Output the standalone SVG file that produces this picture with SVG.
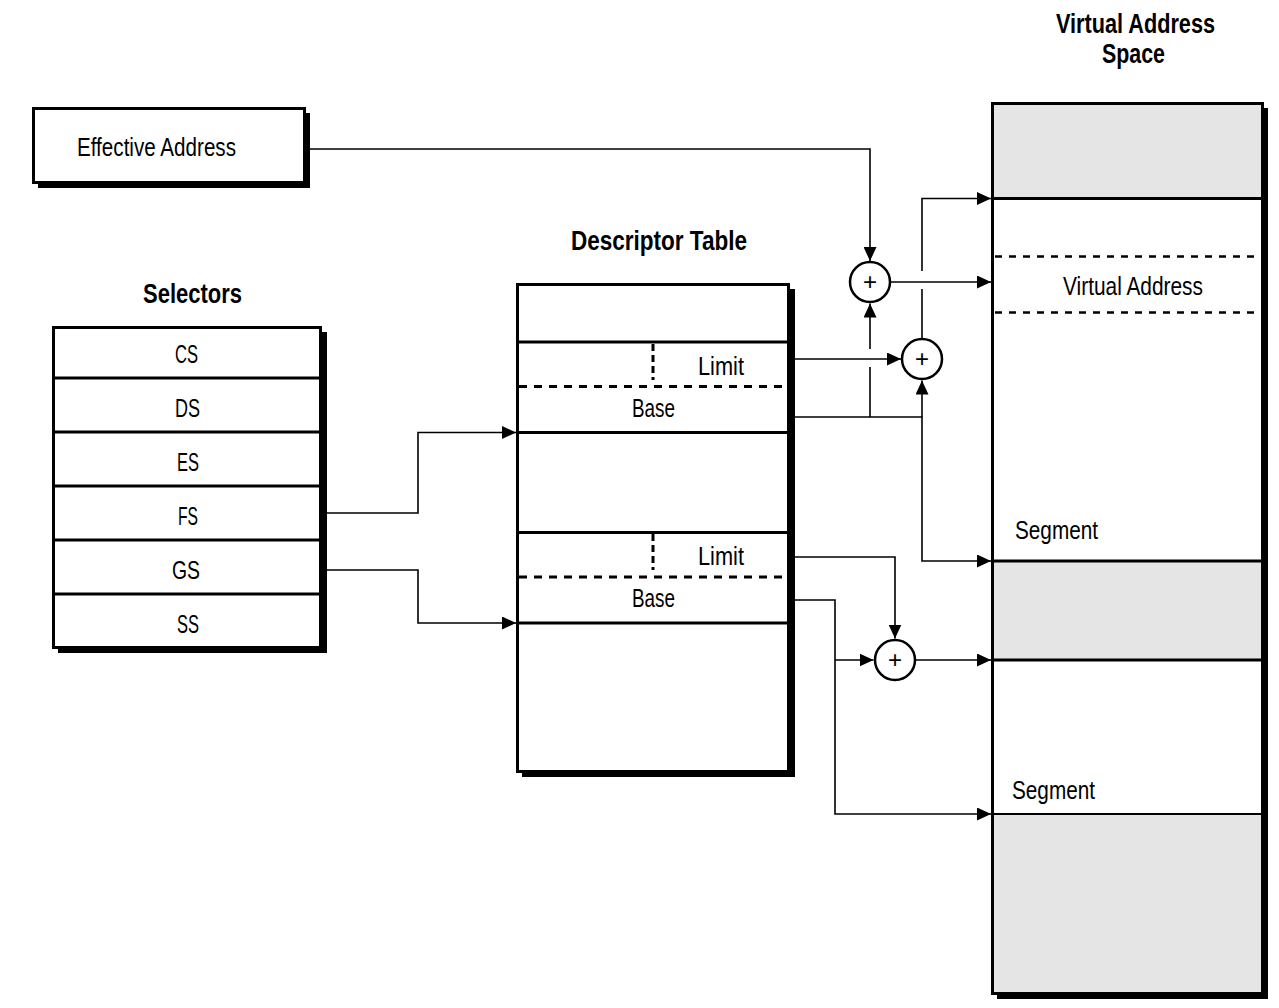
<svg xmlns="http://www.w3.org/2000/svg" width="1279" height="1008" viewBox="0 0 1279 1008">
<style>
text{font-family:"Liberation Sans","DejaVu Sans",sans-serif;font-size:26px;fill:#000}
.t{font-weight:bold;font-size:27px}
.box{fill:#fff;stroke:#000;stroke-width:3}
.sh{fill:#000}
.div{stroke:#000;stroke-width:3;fill:none}
.dash{stroke:#000;stroke-width:3;stroke-dasharray:8 7;fill:none}
.gray{fill:#e5e5e5}
.c{fill:none;stroke:#000;stroke-width:1.6}
.add circle{fill:#fff;stroke:#000;stroke-width:2.5}
.add text{font-size:24px}
</style>
<defs>
<marker id="ah" markerUnits="userSpaceOnUse" markerWidth="14" markerHeight="13" refX="14" refY="6.5" orient="auto">
<path d="M0,0 L14,6.5 L0,13 z" fill="#000"/>
</marker>
</defs>
<rect width="1279" height="1008" fill="#fff"/>

<g id="effective-address">
<rect class="sh" x="38" y="113" width="272" height="75"/>
<rect class="box" x="33.5" y="108.5" width="271" height="74"/>
<text x="77" y="156" textLength="159" lengthAdjust="spacingAndGlyphs">Effective Address</text>
</g>

<g id="selectors">
<text class="t" x="143" y="303" textLength="99" lengthAdjust="spacingAndGlyphs">Selectors</text>
<rect class="sh" x="58" y="332" width="269" height="321"/>
<rect class="box" x="53.5" y="327.5" width="267" height="320"/>
<path class="div" d="M53,378H320M53,432H320M53,486H320M53,540H320M53,594H320"/>
<text x="175" y="362.5" textLength="23" lengthAdjust="spacingAndGlyphs">CS</text>
<text x="175" y="416.5" textLength="25" lengthAdjust="spacingAndGlyphs">DS</text>
<text x="177" y="470.5" textLength="22" lengthAdjust="spacingAndGlyphs">ES</text>
<text x="178" y="524.5" textLength="20" lengthAdjust="spacingAndGlyphs">FS</text>
<text x="172" y="578.5" textLength="28" lengthAdjust="spacingAndGlyphs">GS</text>
<text x="177" y="632.5" textLength="22" lengthAdjust="spacingAndGlyphs">SS</text>
</g>

<g id="descriptor-table">
<text class="t" x="571" y="249.5" textLength="176" lengthAdjust="spacingAndGlyphs">Descriptor Table</text>
<rect class="sh" x="522" y="289" width="273" height="488"/>
<rect class="box" x="517.5" y="284.5" width="271" height="487"/>
<path class="div" d="M517,342H789M517,432.5H789M517,532.5H789M517,623H789"/>
<path class="dash" d="M519,386.5H783M519,577H783"/>
<path class="dash" style="stroke-dasharray:7 4" d="M653,344V380M653,534V570"/>
<text x="698" y="375" textLength="46" lengthAdjust="spacingAndGlyphs">Limit</text>
<text x="632" y="416.5" textLength="43" lengthAdjust="spacingAndGlyphs">Base</text>
<text x="698" y="565" textLength="46" lengthAdjust="spacingAndGlyphs">Limit</text>
<text x="632" y="606.5" textLength="43" lengthAdjust="spacingAndGlyphs">Base</text>
</g>

<g id="virtual-address-space">
<text class="t" x="1056" y="33" textLength="159" lengthAdjust="spacingAndGlyphs">Virtual Address</text>
<text class="t" x="1102" y="63" textLength="63" lengthAdjust="spacingAndGlyphs">Space</text>
<rect class="sh" x="997" y="108" width="271" height="891"/>
<rect class="box" x="992.5" y="103.5" width="270" height="890"/>
<rect class="gray" x="994" y="105" width="267" height="93"/>
<rect class="gray" x="994" y="561" width="267" height="99"/>
<rect class="gray" x="994" y="814" width="267" height="178"/>
<path class="div" d="M992,198.5H1263M992,561H1263M992,660H1263"/>
<path class="div" style="stroke-width:2.2" d="M992,814H1263"/>
<path class="dash" style="stroke-width:2.5;stroke-dasharray:7 7" d="M995,256.5H1258M995,312.5H1258"/>
<text x="1063" y="295" textLength="140" lengthAdjust="spacingAndGlyphs">Virtual Address</text>
<text x="1015" y="539" textLength="83" lengthAdjust="spacingAndGlyphs">Segment</text>
<text x="1012" y="799" textLength="83" lengthAdjust="spacingAndGlyphs">Segment</text>
</g>

<g id="connectors">
<path class="c" marker-end="url(#ah)" d="M310,149H870V261"/>
<path class="c" marker-end="url(#ah)" d="M327,513H418V432.5H516"/>
<path class="c" marker-end="url(#ah)" d="M327,570H418V623H516"/>
<path class="c" marker-end="url(#ah)" d="M795,359H901"/>
<path class="c" marker-end="url(#ah)" d="M795,417H922V561H991"/>
<path class="c" marker-end="url(#ah)" d="M922,417V380.5"/>
<path class="c" marker-end="url(#ah)" d="M870,417V367M870,349V303.5"/>
<path class="c" marker-end="url(#ah)" d="M922,338V289M922,271V198.5H991"/>
<path class="c" marker-end="url(#ah)" d="M891,282H991"/>
<path class="c" marker-end="url(#ah)" d="M795,557H895V638.5"/>
<path class="c" marker-end="url(#ah)" d="M795,600H835V814H991"/>
<path class="c" marker-end="url(#ah)" d="M835,660H873.5"/>
<path class="c" marker-end="url(#ah)" d="M916,660H991"/>
</g>

<g id="adder-1" class="add">
<circle cx="870" cy="282" r="20"/>
<text x="870" y="290" text-anchor="middle">+</text>
</g>
<g id="adder-2" class="add">
<circle cx="922" cy="359" r="20"/>
<text x="922" y="367" text-anchor="middle">+</text>
</g>
<g id="adder-3" class="add">
<circle cx="895" cy="660" r="20"/>
<text x="895" y="668" text-anchor="middle">+</text>
</g>
</svg>
